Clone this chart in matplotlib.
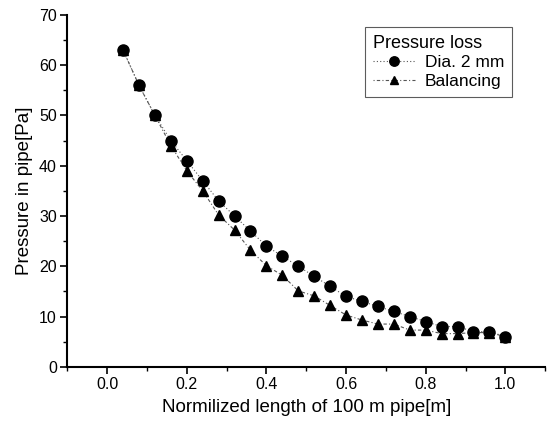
import matplotlib
matplotlib.use("Agg")
import matplotlib.pyplot as plt
from matplotlib.ticker import MultipleLocator

plt.rcParams['font.family'] = ['Liberation Sans', 'DejaVu Sans']

x_pos = [0.04, 0.08, 0.12, 0.16, 0.20, 0.24, 0.28, 0.32, 0.36, 0.40,
         0.44, 0.48, 0.52, 0.56, 0.60, 0.64, 0.68, 0.72, 0.76, 0.80,
         0.84, 0.88, 0.92, 0.96, 1.00]
dia2mm = [63, 56, 50, 45, 41, 37, 33, 30, 27, 24, 22, 20, 18, 16, 14,
          13, 12, 11, 10, 9, 8, 8, 7, 7, 6]
balancing = [63, 56, 50, 44, 39, 35, 30.2, 27.2, 23.2, 20.1, 18.2, 15.1, 14.1,
             12.2, 10.3, 9.3, 8.5, 8.5, 7.3, 7.3, 6.6, 6.6, 6.8, 6.8, 6]

fig = plt.figure(figsize=(5.49, 4.26), dpi=100)
ax = fig.add_axes([0.1226, 0.139, 0.8704, 0.826])

ax.plot(x_pos, balancing, color='#555555', linestyle=(0, (1, 2, 3, 2)), linewidth=0.8,
        marker='^', markersize=7, markerfacecolor='black', markeredgecolor='black',
        label='Balancing', zorder=2)
ax.plot(x_pos, dia2mm, color='#555555', linestyle=(0, (1, 2)), linewidth=0.8,
        marker='o', markersize=8, markerfacecolor='black', markeredgecolor='black',
        label='Dia. 2 mm', zorder=3)

ax.set_xlim(-0.1, 1.1)
ax.set_ylim(0, 70)
ax.xaxis.set_major_locator(MultipleLocator(0.2))
ax.xaxis.set_minor_locator(MultipleLocator(0.1))
ax.yaxis.set_major_locator(MultipleLocator(10))
ax.yaxis.set_minor_locator(MultipleLocator(5))
ax.tick_params(which='major', direction='out', length=5, width=1.2, labelsize=11.5, pad=2.5)
ax.tick_params(which='minor', direction='out', length=3, width=1)
ax.set_xticks([0.0, 0.2, 0.4, 0.6, 0.8, 1.0])
ax.set_xticklabels(['0.0', '0.2', '0.4', '0.6', '0.8', '1.0'])

for s in ['top', 'right']:
    ax.spines[s].set_visible(False)
for s in ['left', 'bottom']:
    ax.spines[s].set_linewidth(1.5)

ax.set_xlabel('Normilized length of 100 m pipe[m]', fontsize=13.5, labelpad=5)
ax.set_ylabel('Pressure in pipe[Pa]', fontsize=13.5, labelpad=4)

handles, labels = ax.get_legend_handles_labels()
leg = ax.legend(handles[::-1], labels[::-1], title='Pressure loss', loc='upper right',
                bbox_to_anchor=(0.931, 0.966), fontsize=12.5, title_fontsize=13,
                frameon=True, fancybox=False, edgecolor='#333333', borderpad=0.45,
                labelspacing=0.2, handlelength=2.4, handletextpad=0.6, borderaxespad=0,
                markerscale=0.85)
leg._legend_box.align = 'left'
leg.get_frame().set_linewidth(0.8)

fig.savefig('out.png', dpi=100)
